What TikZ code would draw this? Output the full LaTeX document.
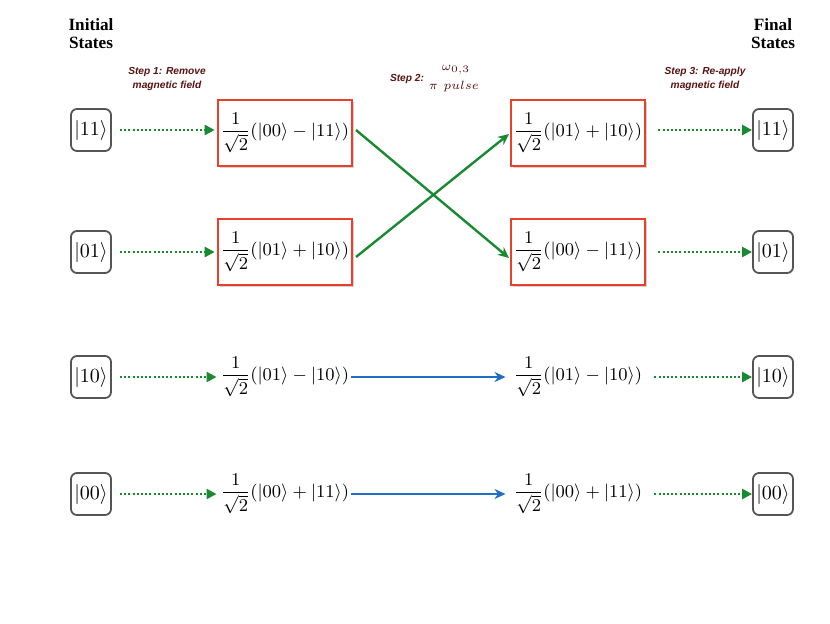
\documentclass[tikz,border=0pt]{standalone}
\usepackage{amsmath}
\usepackage{fontspec}
\setmainfont{Latin Modern Roman}
\newfontfamily\titlefont{Liberation Serif}
\newfontfamily\stepfont{Liberation Sans}
\usetikzlibrary{arrows.meta,shadows}
\definecolor{dgreen}{HTML}{1A8A32}
\definecolor{dblue}{HTML}{1F6FC6}
\definecolor{bred}{HTML}{E8402A}
\definecolor{stepred}{HTML}{5A1212}
\definecolor{ketgray}{HTML}{555555}
\tikzset{
  ket/.style={draw=ketgray, line width=0.9pt, rounded corners=3pt, inner sep=1pt, minimum width=20pt, minimum height=21pt, fill=white},
  statefont/.style={font=\fontsize{9.2}{11}\selectfont},
  redbox/.style={statefont, draw=bred, line width=1.3pt, fill=white, minimum width=67pt, minimum height=33pt, inner sep=1pt,
     drop shadow={shadow xshift=0.8pt, shadow yshift=-0.8pt, opacity=0.35}},
  plainstate/.style={statefont, inner sep=1pt},
  dotarrow/.style={dgreen, line width=1.2pt, dash pattern=on 1pt off 1.1pt, -{Triangle[length=5pt,width=5pt]}},
  crossarrow/.style={dgreen, line width=1.2pt, -{Stealth[length=5.5pt,width=5pt]}},
  bluearrow/.style={dblue, line width=1.2pt, -{Stealth[length=5.5pt,width=5pt]}},
  titletext/.style={font=\titlefont\bfseries\fontsize{8.6}{10}\selectfont, align=center},
  steptext/.style={font=\stepfont\bfseries\itshape\fontsize{5.1}{6}\selectfont, text=stepred, align=center, inner sep=0pt},
}
\begin{document}
\begin{tikzpicture}[x=0.5pt,y=-0.5pt]
\useasboundingbox (0,0) rectangle (830,623);
% titles
\node[titletext] (ti) at (91,34) {Initial\\[-1pt]States};
\node[titletext] (tf) at (773,34) {Final\\[-1pt]States};
\node[steptext] (s1) at (167,79) {Step 1: Remove\\[1.2pt]magnetic field};
\node[steptext] (s2) at (407,79) {Step 2:};
\node[inner sep=0pt, text=stepred, font=\fontsize{6.5}{7}\selectfont] (s2a) at (456,70) {$\omega_{0,3}$};
\node[inner sep=0pt, text=stepred, font=\fontsize{6.5}{7}\selectfont] (s2b) at (454,86) {$\pi\ pulse$};
\node[steptext] (s3) at (705,79) {Step 3: Re-apply\\[1.2pt]magnetic field};
% initial kets
\node[ket] (i1) at (91,130) {$|11\rangle$};
\node[ket] (i2) at (91,252) {$|01\rangle$};
\node[ket] (i3) at (91,377) {$|10\rangle$};
\node[ket] (i4) at (91,494) {$|00\rangle$};
% final kets
\node[ket] (f1) at (773,130) {$|11\rangle$};
\node[ket] (f2) at (773,252) {$|01\rangle$};
\node[ket] (f3) at (773,377) {$|10\rangle$};
\node[ket] (f4) at (773,494) {$|00\rangle$};
% intermediate states
\node[redbox] (a1) at (285,133) {$\dfrac{1}{\sqrt{2}}(|00\rangle-|11\rangle)$};
\node[redbox] (a2) at (285,252) {$\dfrac{1}{\sqrt{2}}(|01\rangle+|10\rangle)$};
\node[plainstate] (a3) at (285,377) {$\dfrac{1}{\sqrt{2}}(|01\rangle-|10\rangle)$};
\node[plainstate] (a4) at (285,494) {$\dfrac{1}{\sqrt{2}}(|00\rangle+|11\rangle)$};
\node[redbox] (b1) at (578,133) {$\dfrac{1}{\sqrt{2}}(|01\rangle+|10\rangle)$};
\node[redbox] (b2) at (578,252) {$\dfrac{1}{\sqrt{2}}(|00\rangle-|11\rangle)$};
\node[plainstate] (b3) at (578,377) {$\dfrac{1}{\sqrt{2}}(|01\rangle-|10\rangle)$};
\node[plainstate] (b4) at (578,494) {$\dfrac{1}{\sqrt{2}}(|00\rangle+|11\rangle)$};
% coordinates for arrow ends
\coordinate (a1r) at (356,130);
\coordinate (a2r) at (356,257);
\coordinate (b1l) at (509,134);
\coordinate (b2l) at (509,258);
% dotted arrows left
\draw[dotarrow] (i1.east) ++(8,0) coordinate (i1s) -- ([xshift=-1pt]a1.west|-i1s);
\draw[dotarrow] (i2.east) ++(8,0) coordinate (i2s) -- ([xshift=-1pt]a2.west|-i2s);
\draw[dotarrow] (i3.east) ++(8,0) coordinate (i3s) -- ([xshift=-1pt]a3.west|-i3s);
\draw[dotarrow] (i4.east) ++(8,0) coordinate (i4s) -- ([xshift=-1pt]a4.west|-i4s);
% crossing arrows
\draw[crossarrow] (a1r) -- (b2l);
\draw[crossarrow] (a2r) -- (b1l);
% blue arrows
\draw[bluearrow] (a3.east) -- ([xshift=-3pt]b3.west);
\draw[bluearrow] (a4.east) -- ([xshift=-3pt]b4.west);
% dotted arrows right
\draw[dotarrow] ([xshift=6pt]b1.east|-f1) -- (f1.west);
\draw[dotarrow] ([xshift=6pt]b2.east|-f2) -- (f2.west);
\draw[dotarrow] ([xshift=5pt]b3.east|-f3) -- (f3.west);
\draw[dotarrow] ([xshift=5pt]b4.east|-f4) -- (f4.west);
\end{tikzpicture}
\end{document}
